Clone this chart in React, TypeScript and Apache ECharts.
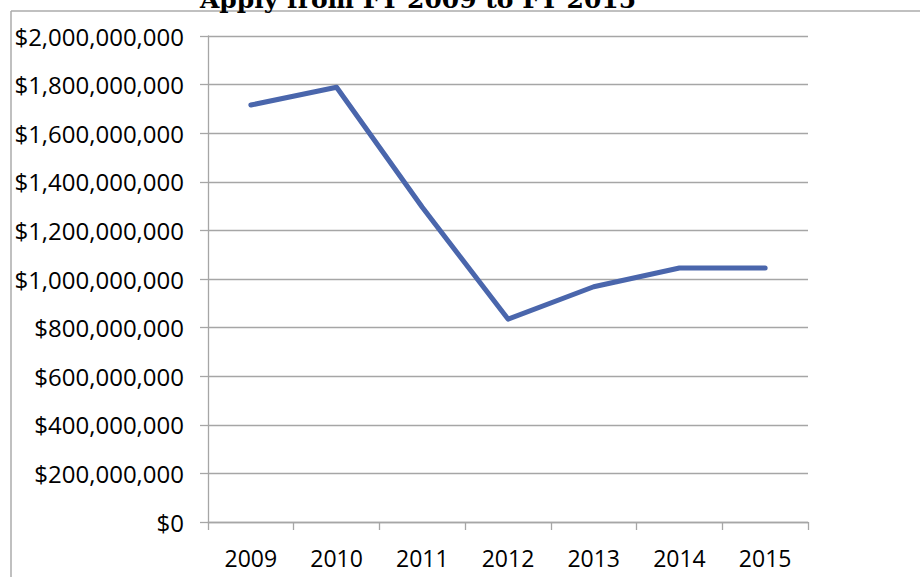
import React, { useEffect, useRef } from "react";
import * as echarts from "echarts";

const years = ["2009", "2010", "2011", "2012", "2013", "2014", "2015"];
const amounts = [1716000000, 1789000000, 1295000000, 835000000, 968000000, 1045000000, 1045000000];
const titleText = "Apply from FY 2009 to FY 2015";
const yMin = 0;
const yMax = 2000000000;
const yStep = 200000000;

function fmtDollar(v: number): string {
  return "$" + Math.round(v).toString().replace(/\B(?=(\d{3})+(?!\d))/g, ",");
}

export default function App() {
  const ref = useRef<HTMLDivElement>(null);
  useEffect(() => {
    if (!ref.current) return;
    const chart = echarts.init(ref.current, undefined, { renderer: "svg" });
    const gray = "#A6A6A6";
    const labelFont = "'Open Sans', sans-serif";
    chart.setOption({
      animation: false,
      backgroundColor: "#ffffff",
      grid: { left: 208, right: 112, top: 36, bottom: 55, containLabel: false },
      xAxis: {
        type: "category",
        data: years,
        boundaryGap: true,
        axisLine: { show: true, lineStyle: { color: gray, width: 1.3 } },
        axisTick: { show: true, length: 8, alignWithLabel: false, lineStyle: { color: gray, width: 1.3 } },
        axisLabel: { color: "#000", fontFamily: labelFont, fontSize: 23, margin: 24 },
        splitLine: { show: false },
      },
      yAxis: {
        type: "value",
        min: yMin,
        max: yMax,
        interval: yStep,
        axisLine: { show: true, lineStyle: { color: gray, width: 1.3 } },
        axisTick: { show: true, length: 8, lineStyle: { color: gray, width: 1.3 } },
        axisLabel: {
          color: "#000",
          fontFamily: labelFont,
          fontSize: 24,
          margin: 24,
          formatter: (v: number) => fmtDollar(v),
        },
        splitLine: { show: true, lineStyle: { color: gray, width: 1.3 } },
      },
      series: [
        {
          type: "line",
          data: amounts,
          symbol: "none",
          lineStyle: { color: "#4A66AC", width: 5, cap: "round", join: "round" },
          itemStyle: { color: "#4A66AC" },
        },
      ],
      graphic: [
        {
          type: "line",
          shape: { x1: 11, y1: 11, x2: 920, y2: 11 },
          style: { stroke: "#ABABAB", lineWidth: 1.5 },
          silent: true,
        },
        {
          type: "line",
          shape: { x1: 11, y1: 11, x2: 11, y2: 577 },
          style: { stroke: "#ABABAB", lineWidth: 1.5 },
          silent: true,
        },
        {
          type: "text",
          x: 418,
          y: 12,
          style: {
            text: titleText,
            fill: "#000",
            font: "bold 25px 'DejaVu Serif', serif",
            textAlign: "center",
            textVerticalAlign: "bottom",
          },
          silent: true,
        },
      ],
    });
    return () => chart.dispose();
  }, []);
  return (
    <div
      ref={ref}
      style={{ position: "fixed", left: 0, top: 0, width: 920, height: 577, background: "#fff" }}
    />
  );
}
